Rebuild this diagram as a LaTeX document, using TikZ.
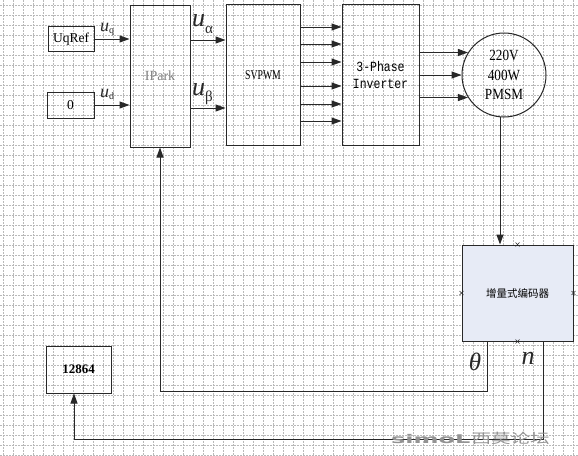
\documentclass[tikz,border=0pt]{standalone}
\usepackage{fontspec}
\setmainfont{Liberation Serif}
\newfontfamily\cjk{Noto Sans CJK SC}
\newfontfamily\monof{Liberation Mono}
\newfontfamily\wmf{DejaVu Sans}
\usetikzlibrary{arrows.meta,calc}
\definecolor{lc}{RGB}{40,40,40}
\definecolor{encfill}{RGB}{231,235,246}
\definecolor{gridcol}{RGB}{185,185,185}
\tikzset{
  gridline/.style={draw=gridcol, line width=0.5pt, dash pattern=on 1.5pt off 1.5pt},
  box/.style={draw=lc, line width=1pt, inner sep=0pt},
  arr/.style={draw=lc, line width=1pt, -{Triangle[length=10pt,width=7pt]}},
  mk/.style={draw=lc, line width=0.5pt},
  lbl/.style={inner sep=0pt, text=lc}
}
\begin{document}
\begin{tikzpicture}[x=1pt,y=-1pt]
\useasboundingbox (0,0) rectangle (578,455);
\fill[white] (0,0) rectangle (578,455);
\foreach \x in {3,13,...,573} \draw[gridline] (\x,0) -- (\x,455);
\foreach \y in {5,15,...,455} \draw[gridline] (0,\y) -- (578,\y);

% blocks
\node[box, minimum width=46, minimum height=25, font=\fontsize{13.5}{15}\selectfont] (uq) at (71,39) {UqRef};
\node[box, minimum width=47, minimum height=26, font=\fontsize{13.5}{15}\selectfont] (zero) at (70.5,105) {0};
\node[box, minimum width=60, minimum height=142, text=gray, font=\fontsize{14}{16}\selectfont] (ipark) at (160,76) {IPark};
\node[box, minimum width=74, minimum height=141, font=\fontsize{13.5}{15}\selectfont] (svpwm) at (263,75) {\scalebox{0.72}[1]{SVPWM}};
\node[box, minimum width=77, minimum height=141, align=center, font=\monof\fontsize{14}{16.5}\selectfont] (inv) at (380.5,75) {\scalebox{0.82}[1]{3-Phase}\\\scalebox{0.82}[1]{Inverter}};
\node[circle, draw=lc, line width=1pt, minimum size=84, inner sep=0pt, align=center, font=\fontsize{15.5}{19.5}\selectfont] (motor) at (504,75) {\scalebox{0.85}[1]{220V}\\\scalebox{0.85}[1]{400W}\\\scalebox{0.85}[1]{PMSM}};
\node[box, fill=encfill, minimum width=111, minimum height=96, font=\cjk\fontsize{10.5}{12}\selectfont] (enc) at (517.5,293) {增量式编码器};
\node[box, minimum width=65, minimum height=47, font=\bfseries\fontsize{13}{15}\selectfont] (lcd) at (78.5,369.5) {12864};

% selection marks on encoder
\foreach \p in {north,south,east,west} {
  \draw[mk] ([shift={(-2,-2)}]enc.\p) -- ([shift={(2,2)}]enc.\p);
  \draw[mk] ([shift={(-2,2)}]enc.\p) -- ([shift={(2,-2)}]enc.\p);
}

% connectors
\draw[arr] (uq.east) -- (uq.east -| ipark.west);
\draw[arr] (zero.east) -- (zero.east -| ipark.west);
\draw[arr] (ipark.east |- 0,40) -- (svpwm.west |- 0,40);
\draw[arr] (ipark.east |- 0,108) -- (svpwm.west |- 0,108);
\foreach \yy in {27,44,62,86,104,121}
  \draw[arr] (svpwm.east |- 0,\yy) -- (inv.west |- 0,\yy);
\draw[arr] (inv.east |- motor.148) -- (motor.148);
\draw[arr] (inv.east |- motor.west) -- (motor.west);
\draw[arr] (inv.east |- motor.212) -- (motor.212);
\coordinate (mb) at (500,116.8);
\draw[arr] (mb) -- (mb |- enc.north);
\coordinate (th) at ($(enc.south west)+(26,0)$);
\coordinate (nn) at ($(enc.south west)+(82,0)$);
\draw[arr] (th) -- (th |- 0,391) -| (ipark.south);
\draw[arr] (nn) -- (nn |- 0,439) -| ($(lcd.south)+(-4.5,0)$);

% labels
\node[lbl, anchor=base west] (luq) at (100,31) {\fontsize{18}{18}\selectfont\textit{u}\raisebox{-2.5pt}{\fontsize{10}{10}\selectfont q}};
\node[lbl, anchor=base west] (lud) at (100,97) {\fontsize{18}{18}\selectfont\textit{u}\raisebox{-2.5pt}{\fontsize{10}{10}\selectfont d}};
\node[lbl, anchor=base west] (lua) at (192,27) {\fontsize{26}{26}\selectfont\textit{u}\raisebox{-6pt}{\fontsize{15}{15}\selectfont α}};
\node[lbl, anchor=base west] (lub) at (192,95) {\fontsize{26}{26}\selectfont\textit{u}\raisebox{-6pt}{\fontsize{15}{15}\selectfont β}};
\node[lbl, anchor=base] (lth) at (475,370) {\fontsize{25}{25}\selectfont\textit{θ}};
\node[lbl, anchor=base] (ln) at (528,364) {\fontsize{26}{26}\selectfont\textit{n}};

% watermark
\node[inner sep=0pt, anchor=west, text=gray!85] (wm) at (391,438.5)
  {\scalebox{2.0}[1]{\wmf\bfseries\fontsize{12}{12}\selectfont simoL}\hspace{1pt}\scalebox{1.45}[1]{\cjk\fontsize{13.5}{13.5}\selectfont 西莫论坛}};
\end{tikzpicture}
\end{document}
